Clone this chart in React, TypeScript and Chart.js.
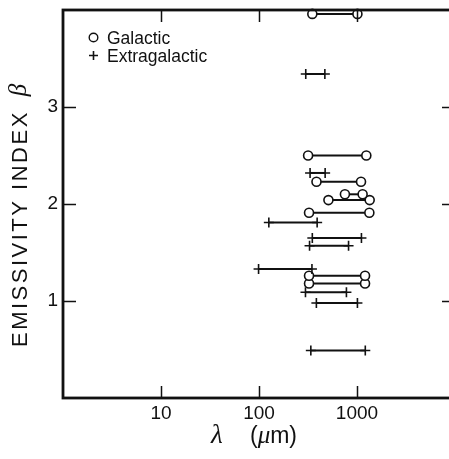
import React, { useEffect, useRef } from "react";
import { Chart, registerables } from "chart.js";

Chart.register(...registerables);

// Galactic measurements (circles): emissivity index and wavelength range (µm)
const galacticBeta = [3.96, 2.5, 2.23, 2.1, 2.04, 1.91, 1.26, 1.18];
const galacticLambdaMin = [350, 317, 386, 753, 511, 324, 324, 324];
const galacticLambdaMax = [1010, 1245, 1099, 1141, 1347, 1337, 1208, 1208];

// Extragalactic measurements (plus signs)
const extraBeta = [3.34, 2.32, 1.81, 1.65, 1.57, 1.33, 1.09, 0.98, 0.49];
const extraLambdaMin = [300, 332, 126, 350, 328, 99, 298, 385, 338];
const extraLambdaMax = [470, 473, 392, 1110, 820, 347, 780, 1010, 1215];

const xTickValues = [10, 100, 1000];
const yTickValues = [1, 2, 3];

const legendLabels = ["Galactic", "Extragalactic"];

const INK = "#111";
const SANS = '"Liberation Sans", Arial, Helvetica, sans-serif';
const SERIF = '"Liberation Serif", "DejaVu Serif", serif';

function makeSegment(beta: number, lo: number, hi: number, galactic: boolean) {
  return {
    data: [
      { x: lo, y: beta },
      { x: hi, y: beta },
    ],
    showLine: true,
    borderColor: INK,
    borderWidth: 2,
    pointStyle: galactic ? "circle" : "cross",
    pointRadius: galactic ? 4.5 : 5,
    pointHoverRadius: galactic ? 4.5 : 5,
    pointBackgroundColor: "#fff",
    pointBorderColor: INK,
    pointBorderWidth: 1.6,
    clip: false,
  };
}

const framePlugin = {
  id: "frameAndLabels",
  afterDraw(chart: any) {
    const ctx = chart.ctx as CanvasRenderingContext2D;
    const { left, right, top, bottom } = chart.chartArea;
    const xs = chart.scales.x;
    const ys = chart.scales.y;
    ctx.save();
    ctx.strokeStyle = INK;
    ctx.fillStyle = INK;

    // inward ticks
    ctx.lineWidth = 1.5;
    ctx.beginPath();
    xTickValues.forEach((v) => {
      const px = Math.round(xs.getPixelForValue(v)) + 0.5;
      ctx.moveTo(px, bottom);
      ctx.lineTo(px, bottom - 12);
      ctx.moveTo(px, top);
      ctx.lineTo(px, top + 12);
    });
    yTickValues.forEach((v) => {
      const py = Math.round(ys.getPixelForValue(v)) + 0.5;
      ctx.moveTo(left, py);
      ctx.lineTo(left + 13, py);
      ctx.moveTo(right, py);
      ctx.lineTo(right - 13, py);
    });
    ctx.stroke();

    // frame
    ctx.lineWidth = 2.8;
    ctx.strokeRect(left, top, right - left, bottom - top);

    // legend
    ctx.lineWidth = 1.4;
    ctx.beginPath();
    ctx.arc(93.5, 37.5, 4.3, 0, Math.PI * 2);
    ctx.stroke();
    ctx.lineWidth = 1.6;
    ctx.beginPath();
    ctx.moveTo(89, 55.5);
    ctx.lineTo(98, 55.5);
    ctx.moveTo(93.5, 51);
    ctx.lineTo(93.5, 60);
    ctx.stroke();
    ctx.font = `17.5px ${SANS}`;
    ctx.textAlign = "left";
    ctx.textBaseline = "alphabetic";
    ctx.fillText(legendLabels[0], 107, 43.5);
    ctx.fillText(legendLabels[1], 107, 61.5);

    // y-axis title (rotated)
    ctx.save();
    ctx.translate(27, 347);
    ctx.rotate(-Math.PI / 2);
    ctx.font = `22px ${SANS}`;
    (ctx as any).letterSpacing = "2.5px";
    const yTitle = "EMISSIVITY INDEX";
    ctx.fillText(yTitle, 0, 0);
    const w = ctx.measureText(yTitle).width;
    (ctx as any).letterSpacing = "0px";
    ctx.font = `italic 25px ${SERIF}`;
    ctx.fillText("\u03B2", w + 14, -1);
    ctx.restore();

    // x-axis title
    ctx.font = `italic 27px ${SERIF}`;
    ctx.fillText("\u03BB", 211, 443);
    let x = 250;
    ctx.font = `23px ${SANS}`;
    ctx.fillText("(", x, 443);
    x += ctx.measureText("(").width;
    ctx.font = `italic 25px ${SERIF}`;
    ctx.fillText("\u03BC", x, 443);
    x += ctx.measureText("\u03BC").width;
    ctx.font = `23px ${SANS}`;
    ctx.fillText("m)", x, 443);

    ctx.restore();
  },
};

function zeroPadding(s: any) {
  s.paddingTop = 0;
  s.paddingBottom = 0;
  s.paddingLeft = 0;
  s.paddingRight = 0;
}

export default function App() {
  const canvasRef = useRef<HTMLCanvasElement | null>(null);

  useEffect(() => {
    if (!canvasRef.current) return;
    const datasets: any[] = [];
    extraBeta.forEach((b, i) =>
      datasets.push(makeSegment(b, extraLambdaMin[i], extraLambdaMax[i], false))
    );
    galacticBeta.forEach((b, i) =>
      datasets.push(makeSegment(b, galacticLambdaMin[i], galacticLambdaMax[i], true))
    );

    const chart = new Chart(canvasRef.current, {
      type: "scatter",
      data: { datasets },
      plugins: [framePlugin],
      options: {
        animation: false,
        responsive: false,
        devicePixelRatio: 1,
        layout: { padding: { top: 10, right: 15, left: 0, bottom: 0 } },
        plugins: {
          legend: { display: false },
          tooltip: { enabled: false },
          title: { display: false },
        },
        scales: {
          x: {
            type: "logarithmic",
            min: 1,
            max: 10000,
            afterBuildTicks: (s: any) => {
              s.ticks = xTickValues.map((v) => ({ value: v }));
            },
            afterFit: (s: any) => {
              s.height = 61;
              zeroPadding(s);
            },
            ticks: {
              callback: (v: any) => String(v),
              font: { size: 19, family: SANS },
              color: INK,
              padding: 4,
              maxRotation: 0,
              autoSkip: false,
            },
            grid: { display: false, drawTicks: false },
            border: { display: false },
          },
          y: {
            type: "linear",
            min: 0,
            max: 4,
            afterBuildTicks: (s: any) => {
              s.ticks = yTickValues.map((v) => ({ value: v }));
            },
            afterFit: (s: any) => {
              s.width = 63;
              zeroPadding(s);
            },
            ticks: {
              callback: (v: any) => String(v),
              font: { size: 19, family: SANS },
              color: INK,
              padding: 5,
              autoSkip: false,
            },
            grid: { display: false, drawTicks: false },
            border: { display: false },
          },
        },
      } as any,
    });
    return () => chart.destroy();
  }, []);

  return (
    <div
      style={{
        position: "fixed",
        left: 0,
        top: 0,
        width: 449,
        height: 459,
        overflow: "hidden",
        background: "#fff",
      }}
    >
      <canvas ref={canvasRef} width={470} height={459} style={{ display: "block" }} />
    </div>
  );
}
